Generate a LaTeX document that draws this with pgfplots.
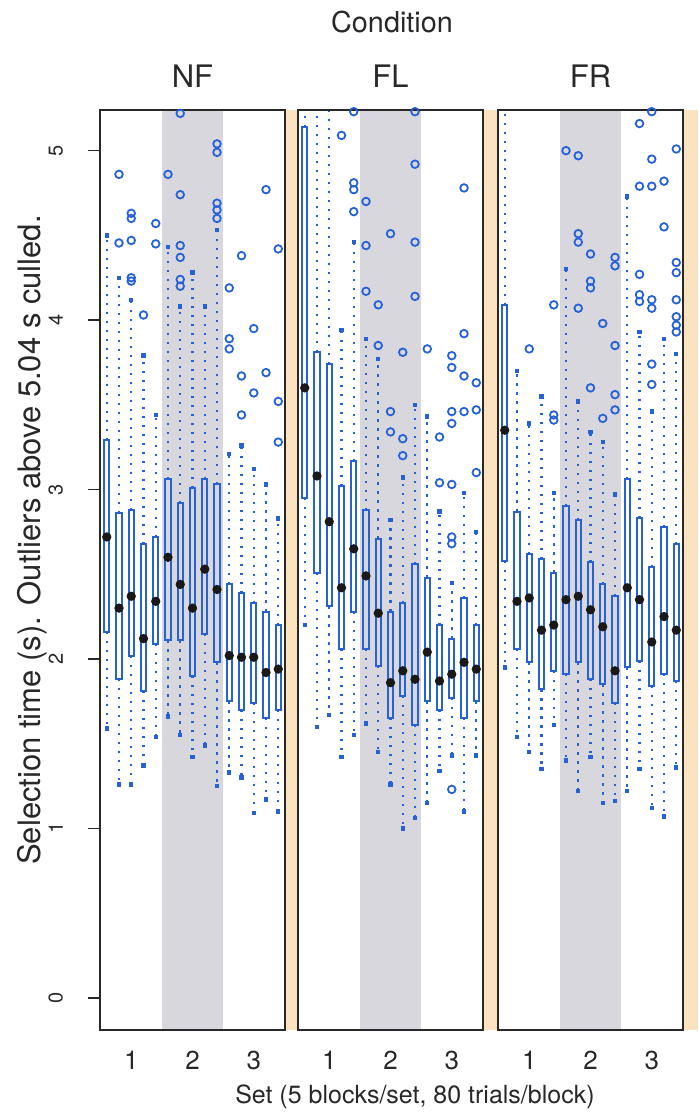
\documentclass[border=0pt]{standalone}
\usepackage{pgfplots}
\pgfplotsset{compat=1.18}
\usepgfplotslibrary{statistics}
\usepackage{fontspec}
\setmainfont{TeX Gyre Heros}
\definecolor{bpblue}{RGB}{38,98,214}
\definecolor{setgray}{RGB}{217,215,222}
\definecolor{striptan}{RGB}{250,227,190}
\definecolor{txt}{RGB}{40,40,40}

% \bx{position}{lower whisker}{lower quartile}{median}{upper quartile}{upper whisker}{outliers}
\newcommand{\bx}[7]{\addplot[bpblue, line width=1pt, mark=o, mark size=1.9pt,
  mark options={solid, line width=0.9pt, bpblue},
  boxplot prepared={draw position=#1, lower whisker=#2, lower quartile=#3,
    median=#4, upper quartile=#5, upper whisker=#6}] coordinates {#7};}

\pgfplotsset{panel/.style={
  scale only axis, width=92.5pt, height=460pt, anchor=south west,
  xmin=0.45, xmax=15.55, ymin=-0.19, ymax=5.24,
  axis on top,
  axis line style={line width=0.9pt, txt},
  xtick={3,8,13}, xticklabels={1,2,3},
  xtick style={draw=none},
  xticklabel style={anchor=center, yshift=-9pt, font=\fontsize{13}{15}\selectfont, text=txt},
  ytick=\empty,
  tick align=outside, major tick length=6pt,
  tick pos=left,
  /pgf/number format/assume math mode=true,
  title style={at={(0.5,1)}, anchor=center, yshift=11pt, font=\fontsize{15.5}{17}\selectfont, text=txt},
  boxplot/draw direction=y,
  boxplot/box extend=0.42,
  boxplot/whisker extend=0.36,
  boxplot/draw/median/.code={\fill[black!90] (boxplot cs:\pgfplotsboxplotvalue{median}) circle[radius=1.8pt];},
  boxplot/draw/lower whisker/.code={%
    \draw[bpblue, line width=1.1pt, dash pattern=on 1.1pt off 3.4pt]
      (boxplot cs:\pgfplotsboxplotvalue{lower quartile}) -- (boxplot cs:\pgfplotsboxplotvalue{lower whisker});
    \draw[bpblue, line width=2.2pt, solid]
      (boxplot whisker cs:\pgfplotsboxplotvalue{lower whisker},0) -- (boxplot whisker cs:\pgfplotsboxplotvalue{lower whisker},1);},
  boxplot/draw/upper whisker/.code={%
    \draw[bpblue, line width=1.1pt, dash pattern=on 1.1pt off 3.4pt]
      (boxplot cs:\pgfplotsboxplotvalue{upper quartile}) -- (boxplot cs:\pgfplotsboxplotvalue{upper whisker});
    \draw[bpblue, line width=2.2pt, solid]
      (boxplot whisker cs:\pgfplotsboxplotvalue{upper whisker},0) -- (boxplot whisker cs:\pgfplotsboxplotvalue{upper whisker},1);},
}}

\begin{document}
\begin{tikzpicture}
\useasboundingbox (0pt,0pt) rectangle (349pt,558.5pt);
\fill[striptan] (142.5pt,43.5pt) rectangle (149pt,503.5pt);
\fill[striptan] (241.5pt,43.5pt) rectangle (249pt,503.5pt);
\fill[striptan] (341.5pt,43.5pt) rectangle (349pt,503.5pt);

% ---------------- NF ----------------
\begin{axis}[panel, at={(50pt,43.5pt)}, title={NF},
  ytick={0,1,2,3,4,5},
  ytick style={line width=0.8pt, txt},
  yticklabel style={xshift=-9pt, rotate=90, anchor=south, font=\fontsize{10}{12}\selectfont, text=txt}]
\fill[setgray] (axis cs:5.5,-1) rectangle (axis cs:10.5,6);
\bx{1}{1.59}{2.16}{2.72}{3.29}{4.50}{}
\bx{2}{1.26}{1.88}{2.30}{2.86}{4.25}{(0,4.86)(0,4.455)}
\bx{3}{1.26}{2.02}{2.37}{2.88}{4.12}{(0,4.63)(0,4.60)(0,4.47)(0,4.25)(0,4.23)}
\bx{4}{1.37}{1.81}{2.12}{2.68}{3.79}{(0,4.03)}
\bx{5}{1.54}{2.09}{2.34}{2.72}{3.44}{(0,4.57)(0,4.45)}
\bx{6}{1.66}{2.11}{2.60}{3.06}{4.43}{(0,4.86)}
\bx{7}{1.55}{2.11}{2.44}{2.92}{4.08}{(0,5.22)(0,4.74)(0,4.44)(0,4.37)(0,4.24)(0,4.20)}
\bx{8}{1.42}{1.90}{2.30}{3.01}{4.28}{}
\bx{9}{1.49}{2.15}{2.53}{3.06}{4.08}{}
\bx{10}{1.25}{1.98}{2.41}{3.03}{4.53}{(0,5.04)(0,4.99)(0,4.69)(0,4.65)(0,4.60)}
\bx{11}{1.33}{1.75}{2.02}{2.44}{3.21}{(0,4.19)(0,3.89)(0,3.83)}
\bx{12}{1.30}{1.70}{2.01}{2.39}{3.26}{(0,4.38)(0,3.67)(0,3.44)}
\bx{13}{1.09}{1.74}{2.01}{2.33}{3.12}{(0,3.95)(0,3.57)}
\bx{14}{1.17}{1.65}{1.92}{2.28}{3.03}{(0,4.77)(0,3.69)}
\bx{15}{1.10}{1.70}{1.94}{2.20}{2.83}{(0,4.42)(0,3.52)(0,3.28)}
\end{axis}

% ---------------- FL ----------------
\begin{axis}[panel, at={(149pt,43.5pt)}, title={FL}]
\fill[setgray] (axis cs:5.5,-1) rectangle (axis cs:10.5,6);
\bx{1}{2.20}{2.95}{3.60}{5.14}{5.40}{}
\bx{2}{1.60}{2.51}{3.08}{3.81}{5.40}{}
\bx{3}{1.67}{2.31}{2.81}{3.74}{5.40}{}
\bx{4}{1.42}{2.06}{2.42}{3.02}{3.94}{(0,5.09)}
\bx{5}{1.55}{2.28}{2.65}{3.17}{4.46}{(0,5.23)(0,4.81)(0,4.77)(0,4.64)}
\bx{6}{1.62}{2.06}{2.49}{2.88}{3.89}{(0,4.70)(0,4.44)(0,4.17)}
\bx{7}{1.45}{1.96}{2.27}{2.71}{3.77}{(0,4.09)(0,3.85)}
\bx{8}{1.26}{1.65}{1.86}{2.28}{2.82}{(0,4.51)(0,3.46)(0,3.34)}
\bx{9}{1.00}{1.78}{1.93}{2.33}{3.07}{(0,3.81)(0,3.30)(0,3.20)}
\bx{10}{1.06}{1.61}{1.88}{2.56}{3.50}{(0,5.23)(0,4.92)(0,4.46)(0,4.14)}
\bx{11}{1.15}{1.75}{2.04}{2.48}{3.43}{(0,3.83)}
\bx{12}{1.34}{1.70}{1.87}{2.20}{2.87}{(0,3.31)(0,3.04)}
\bx{13}{1.43}{1.77}{1.91}{2.12}{2.45}{(0,3.79)(0,3.72)(0,3.46)(0,3.39)(0,3.03)(0,2.72)(0,2.68)(0,1.23)}
\bx{14}{1.10}{1.65}{1.98}{2.36}{2.98}{(0,4.78)(0,3.92)(0,3.67)(0,3.46)}
\bx{15}{1.43}{1.75}{1.94}{2.20}{2.75}{(0,3.63)(0,3.47)(0,3.10)}
\end{axis}

% ---------------- FR ----------------
\begin{axis}[panel, at={(249pt,43.5pt)}, title={FR}]
\fill[setgray] (axis cs:5.5,-1) rectangle (axis cs:10.5,6);
\bx{1}{1.95}{2.58}{3.35}{4.09}{5.40}{}
\bx{2}{1.54}{2.06}{2.34}{2.87}{3.70}{}
\bx{3}{1.45}{1.98}{2.36}{2.62}{3.39}{(0,3.83)}
\bx{4}{1.35}{1.82}{2.17}{2.59}{3.55}{}
\bx{5}{1.61}{1.93}{2.20}{2.51}{2.98}{(0,4.09)(0,3.44)(0,3.41)}
\bx{6}{1.40}{1.91}{2.35}{2.90}{4.30}{(0,5.00)}
\bx{7}{1.22}{1.98}{2.37}{2.82}{3.52}{(0,4.97)(0,4.51)(0,4.46)(0,4.07)}
\bx{8}{1.42}{1.88}{2.29}{2.57}{3.34}{(0,4.39)(0,4.23)(0,4.19)(0,3.60)}
\bx{9}{1.15}{1.85}{2.19}{2.44}{3.28}{(0,3.98)(0,3.42)}
\bx{10}{1.16}{1.74}{1.93}{2.37}{2.97}{(0,4.37)(0,4.32)(0,3.85)(0,3.56)(0,3.47)}
\bx{11}{1.22}{1.95}{2.42}{3.06}{4.73}{}
\bx{12}{1.35}{1.99}{2.35}{2.83}{3.93}{(0,5.16)(0,4.79)(0,4.27)(0,4.15)(0,4.11)}
\bx{13}{1.12}{1.84}{2.10}{2.54}{3.46}{(0,5.23)(0,4.95)(0,4.79)(0,4.12)(0,4.07)(0,3.74)(0,3.62)}
\bx{14}{1.07}{1.91}{2.25}{2.78}{3.89}{(0,4.82)(0,4.55)}
\bx{15}{1.36}{1.87}{2.17}{2.68}{3.80}{(0,5.01)(0,4.34)(0,4.28)(0,4.12)(0,4.02)(0,3.97)(0,3.93)}
\end{axis}

\node[font=\fontsize{14.4}{16}\selectfont, text=txt] at (196pt,547.5pt) {Condition};
\node[font=\fontsize{12.5}{14}\selectfont, text=txt] at (207.5pt,10pt) {Set (5 blocks/set, 80 trials/block)};
\node[rotate=90, font=\fontsize{15.5}{17}\selectfont, text=txt] at (16pt,288.5pt) {Selection time (s). Outliers above 5.04 s culled.};
\end{tikzpicture}
\end{document}
